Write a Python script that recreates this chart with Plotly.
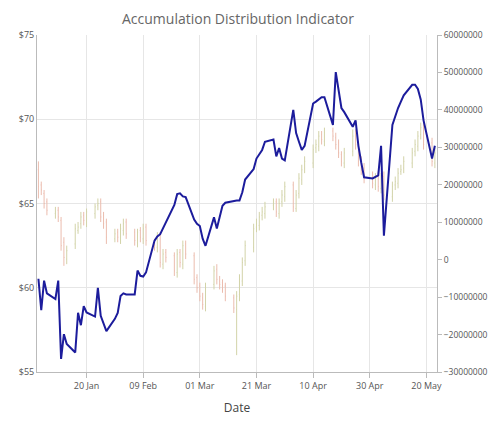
import pandas as pd
import plotly.graph_objs as go

# trading days Jan 3 - May 23 2017
dates = pd.bdate_range("2017-01-03", "2017-05-23")

open_vals = [67,66.1,65.6,65.1,64.4,64.6,64,62.7,61.7,62.6,63.4,63.8,64.3,63.9,64.4,64.9,65.1,64.3,63.9,62.9,63.3,
             62.9,63.4,63.9,63.3,62.7,63.4,62.9,63.6,62.7,62.4,63.1,61.4,62.1,61.9,60.9,62.1,61.4,62.6,61.9,60.6,
             60.1,59.4,58.9,60.2,61.1,60.4,60.3,60.1,59.4,58.7,59.6,60.4,61.6,62.4,63.6,63.7,64.3,64.4,64.9,65.1,64.4,65.1,65.4,
             66.1,64.7,65.6,66.4,67.1,67.4,68.3,68.4,69.1,68.7,69.3,68.9,68.6,67.9,67.4,68.1,69.1,68.4,67.6,67.1,
             66.6,66.1,66.6,65.9,66.6,65.4,66.1,66.2,66.9,67.1,67.4,68.1,68.4,69.1,69.6,68.6,67.4]
high_vals = [67.5,66.3,65.8,65.3,64.8,64.8,64.2,63,62.5,63.8,63.9,64.5,64.5,64.7,65,65.3,65.3,64.5,64.1,63.5,63.5,
             63.8,64.1,64.1,63.5,63.5,63.6,63.8,63.8,62.9,63.3,63.3,62.3,62.3,62.1,62.3,62.3,62.8,62.8,62.1,60.8,
             60.3,59.7,60.3,61.3,61.4,60.7,60.5,60.3,59.6,59.8,60.8,61.8,62.8,63.8,64.1,64.5,64.8,65.1,65.3,65.3,65.3,65.8,66.3,
             66.3,65.8,66.8,67.3,67.8,68.5,68.8,69.3,69.3,69.5,69.5,69.2,68.8,68.1,68.3,69.4,69.4,68.7,67.8,67.4,
             66.9,66.8,66.9,66.8,66.9,66.3,66.6,67.1,67.3,67.8,68.3,68.8,69.3,69.8,69.9,68.9,68.3]
low_vals = [65.3,65.5,64.7,64.3,64.1,63.9,62.2,61.3,61.4,62.3,63.2,63.5,63.7,63.6,64.1,64.6,63.9,63.5,62.6,62.7,62.7,
            62.6,63.1,62.9,62.5,62.4,62.7,62.6,62.5,62.2,62.1,61.2,61.1,61.5,60.7,60.6,61.2,61.1,61.7,60.2,59.7,
            59.2,58.7,58.6,59.9,60.2,59.9,59.7,59.2,58.5,56,59.2,60.1,61.3,62.1,63.3,63.4,64,64.1,64.6,64.2,64.1,64.8,65.1,
            64.5,64.5,65.3,66.1,66.8,67.1,68,68.1,68.5,68.4,68.7,68.2,67.7,67.2,67.1,67.8,68.2,67.2,66.7,66.2,
            65.9,65.8,65.7,65.6,65.2,65.1,65.8,65.9,66.7,66.8,67.1,67.8,68.1,68.8,68.2,67.2,67.1]
close_vals = [66,65.8,65,64.6,64.5,64.2,62.5,61.8,62.2,63.5,63.6,64.2,64,64.5,64.8,65,64.2,63.8,63,63.2,63,
              63.5,63.8,63.2,62.8,63.3,63,63.5,62.8,62.5,63,61.5,62,61.8,61,62,61.5,62.5,62,60.5,60,
              59.5,59,60,61,60.5,60.2,60,59.5,58.8,59.5,60.5,61.5,62.5,63.5,63.8,64.2,64.5,64.8,65,64.5,65,65.5,66,
              64.8,65.5,66.5,67,67.5,68.2,68.5,69,68.8,69.2,69,68.5,68,67.5,68,69,68.5,67.5,67,66.5,
              66.2,66.5,66,66.5,65.5,66,66.3,66.8,67,67.5,68,68.5,69,69.5,68.5,67.5,68]

# accumulation distribution, in millions
ad_millions = [-5.1,-13.5,-5.6,-9,-10.5,-5.6,-26.5,-19.9,-22.5,-24.8,-14.2,-17.5,-12.4,-14.1,-15.2,-7.5,-15,-16.9,-19.1,-15.8,-14.2,
               -9.7,-9,-9.3,-9.3,-2.9,-4.3,-4.5,-3.4,5.1,6.2,6.8,8.4,10.1,14.6,17.5,17.7,16.9,16.7,10.7,9.6,
               9,5.6,3.7,11.3,8.3,11.3,14.4,15.2,15.8,15.8,15.8,18,21.4,24.2,27,28.2,29.3,31.5,32.1,27.6,29.8,27,26.5,
               40,33.8,31.5,29.3,30.4,41.7,42.2,42.8,43.4,43.4,36,50.1,45,40.5,39.4,35.5,37.2,30.4,25.9,22,
               21.7,22,22.5,30.4,6.4,36,38.3,40.5,42.2,43.9,46.7,46.7,45.6,42.8,37.2,27,30.4]
ad_vals = [v * 1e6 for v in ad_millions]

tick_dates = ["2017-01-20", "2017-02-09", "2017-03-01", "2017-03-21", "2017-04-10", "2017-04-30", "2017-05-20"]

fig = go.Figure()
fig.add_trace(go.Ohlc(x=dates, open=open_vals, high=high_vals, low=low_vals, close=close_vals,
                      increasing_line_color="#d2d3a8", decreasing_line_color="#ebbcae",
                      line_width=1, tickwidth=0.2, showlegend=False))
fig.add_trace(go.Scatter(x=dates, y=ad_vals, yaxis="y2", mode="lines",
                         line=dict(color="#1c1c9c", width=2), showlegend=False))

# page has ~8px body margin, so margins are shifted to land the plot area where the reference has it
fig.update_layout(
    width=500, height=424,
    margin=dict(l=29, r=71, t=27, b=60, autoexpand=False),
    paper_bgcolor="white", plot_bgcolor="white",
    font=dict(family="Open Sans", size=9, color="#555"),
    title=dict(text="Accumulation Distribution Indicator", x=0.46, xanchor="center", y=0.985,
               font=dict(size=14, color="#666")),
    xaxis=dict(range=["2017-01-02 12:00", "2017-05-23 18:00"], tickvals=tick_dates, tickformat="%d %b",
               showgrid=True, gridcolor="#e6e6e6", rangeslider=dict(visible=False), automargin=False,
               title=dict(text="Date", font=dict(size=12, color="#444"), standoff=12),
               showline=True, linecolor="#bbb", ticks="outside", tickcolor="#bbb"),
    yaxis=dict(range=[55, 75], dtick=5, tickprefix="$", showgrid=True, gridcolor="#e6e6e6",
               showline=True, linecolor="#bbb", zeroline=False, automargin=False),
    yaxis2=dict(range=[-30e6, 60e6], dtick=10e6, overlaying="y", side="right", showgrid=False,
                tickformat="d", showline=True, linecolor="#bbb", zeroline=False, automargin=False,
                ticks="outside", tickcolor="#bbb", ticklen=4, tickfont=dict(size=8.5)),
)

fig.write_html("out.html")
